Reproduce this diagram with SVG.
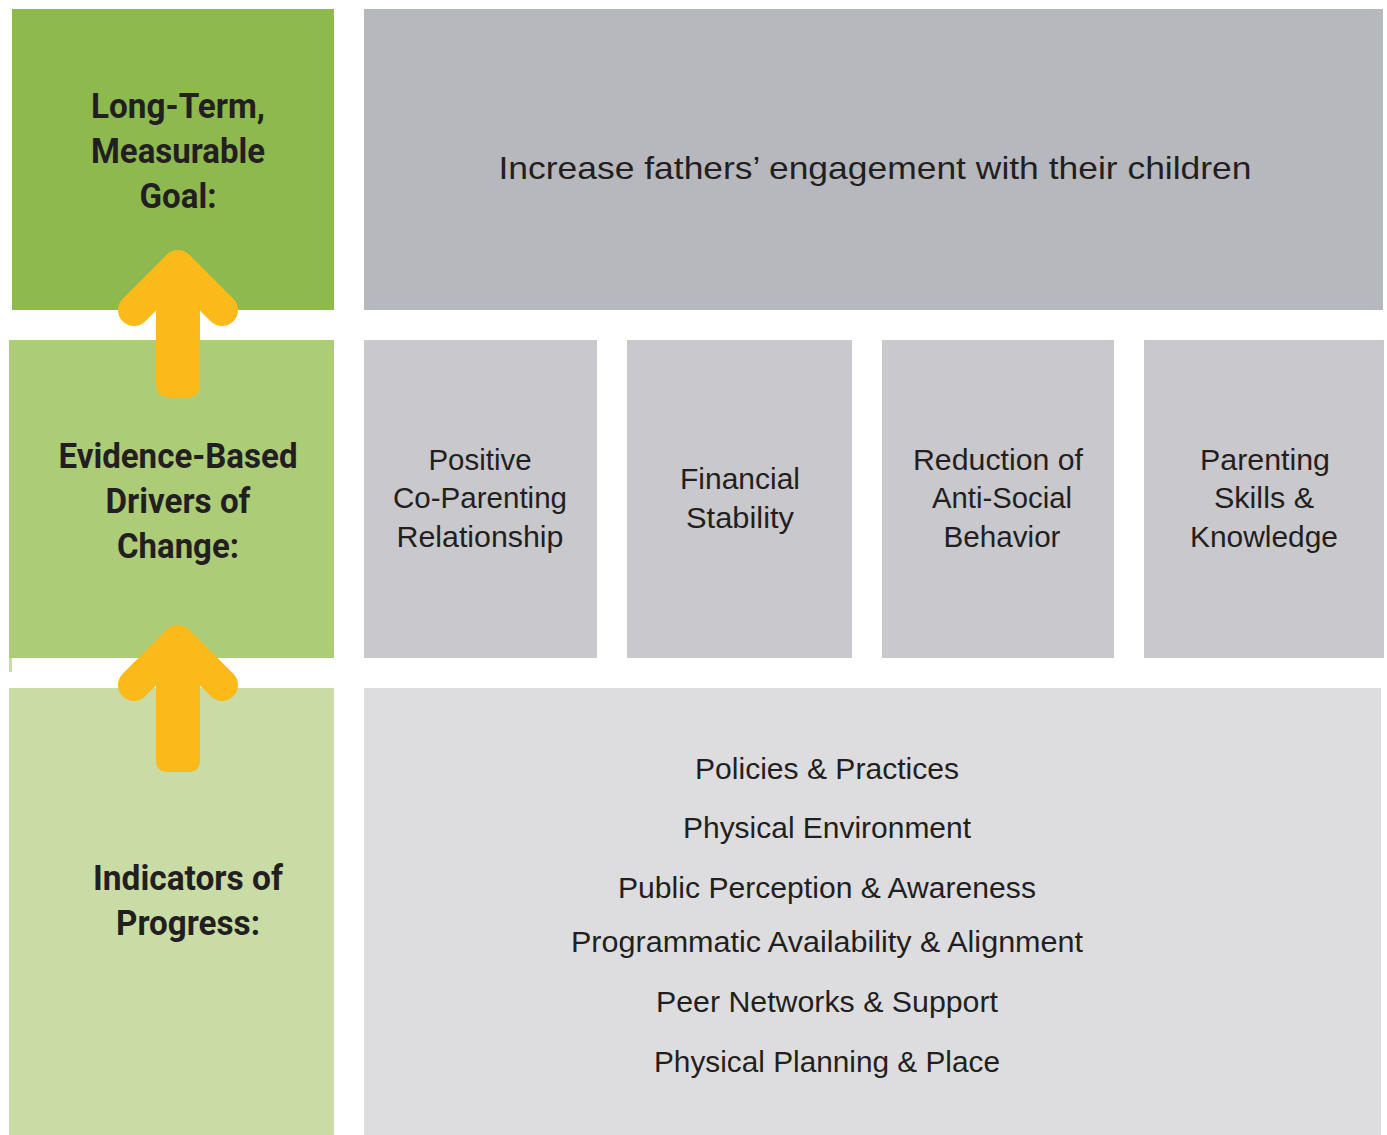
<svg xmlns="http://www.w3.org/2000/svg" width="1387" height="1135" viewBox="0 0 1387 1135">
<style>
.lbl{font-family:"Roboto","Liberation Sans",sans-serif;font-weight:bold;font-size:35px;fill:#231f20;text-anchor:middle}
.txt{font-family:"Liberation Sans","Arial",sans-serif;font-size:29px;fill:#231f20;text-anchor:middle}
.arrow-wing{fill:none;stroke:#fbb91a;stroke-width:32;stroke-linecap:round;stroke-linejoin:round}
.arrow-shaft{fill:#fbb91a}
</style>
<rect width="1387" height="1135" fill="#ffffff"/>
<g id="goal-label">
<rect x="12" y="9" width="322" height="301" fill="#8db94e"/>
<text class="lbl"><tspan x="178" y="118" textLength="174" lengthAdjust="spacingAndGlyphs">Long-Term,</tspan><tspan x="178" y="163" textLength="174" lengthAdjust="spacingAndGlyphs">Measurable</tspan><tspan x="178" y="208" textLength="77" lengthAdjust="spacingAndGlyphs">Goal:</tspan></text>
</g>
<g id="drivers-label">
<rect x="9" y="340" width="325" height="318" fill="#adcc78"/>
<text class="lbl"><tspan x="178" y="468" textLength="239" lengthAdjust="spacingAndGlyphs">Evidence-Based</tspan><tspan x="178" y="513" textLength="145" lengthAdjust="spacingAndGlyphs">Drivers of</tspan><tspan x="178" y="558" textLength="122" lengthAdjust="spacingAndGlyphs">Change:</tspan></text>
</g>
<g id="indicators-label">
<rect x="9" y="658" width="3" height="14" fill="#cadca6"/>
<rect x="9" y="688" width="325" height="447" fill="#cadca6"/>
<text class="lbl"><tspan x="188" y="890" textLength="190" lengthAdjust="spacingAndGlyphs">Indicators of</tspan><tspan x="188" y="935" textLength="144" lengthAdjust="spacingAndGlyphs">Progress:</tspan></text>
</g>
<g id="goal">
<rect x="364" y="9" width="1019" height="301" fill="#b7b8bd"/>
<text class="txt" x="875" y="179" style="font-size:32px" textLength="753" lengthAdjust="spacingAndGlyphs">Increase fathers’ engagement with their children</text>
</g>
<g id="driver-coparenting">
<rect x="364" y="340" width="233" height="318" fill="#c9c8cd"/>
<text class="txt"><tspan x="480" y="470" textLength="103" lengthAdjust="spacingAndGlyphs">Positive</tspan><tspan x="480" y="508" textLength="174" lengthAdjust="spacingAndGlyphs">Co-Parenting</tspan><tspan x="480" y="547" textLength="167" lengthAdjust="spacingAndGlyphs">Relationship</tspan></text>
</g>
<g id="driver-financial">
<rect x="627" y="340" width="225" height="318" fill="#c9c8cd"/>
<text class="txt"><tspan x="740" y="489" textLength="120" lengthAdjust="spacingAndGlyphs">Financial</tspan><tspan x="740" y="528" textLength="108" lengthAdjust="spacingAndGlyphs">Stability</tspan></text>
</g>
<g id="driver-antisocial">
<rect x="882" y="340" width="232" height="318" fill="#c9c8cd"/>
<text class="txt"><tspan x="998" y="470" textLength="170" lengthAdjust="spacingAndGlyphs">Reduction of</tspan><tspan x="1002" y="508" textLength="140" lengthAdjust="spacingAndGlyphs">Anti-Social</tspan><tspan x="1002" y="547" textLength="117" lengthAdjust="spacingAndGlyphs">Behavior</tspan></text>
</g>
<g id="driver-parenting">
<rect x="1144" y="340" width="240" height="318" fill="#c9c8cd"/>
<text class="txt"><tspan x="1265" y="470" textLength="130" lengthAdjust="spacingAndGlyphs">Parenting</tspan><tspan x="1264" y="508" textLength="100" lengthAdjust="spacingAndGlyphs">Skills &amp;</tspan><tspan x="1264" y="547" textLength="148" lengthAdjust="spacingAndGlyphs">Knowledge</tspan></text>
</g>
<g id="indicators">
<rect x="364" y="688" width="1017" height="447" fill="#dddddf"/>
<text class="txt"><tspan x="827" y="779" textLength="264" lengthAdjust="spacingAndGlyphs">Policies &amp; Practices</tspan><tspan x="827" y="838" textLength="288" lengthAdjust="spacingAndGlyphs">Physical Environment</tspan><tspan x="827" y="898" textLength="418" lengthAdjust="spacingAndGlyphs">Public Perception &amp; Awareness</tspan><tspan x="827" y="952" textLength="512" lengthAdjust="spacingAndGlyphs">Programmatic Availability &amp; Alignment</tspan><tspan x="827" y="1012" textLength="342" lengthAdjust="spacingAndGlyphs">Peer Networks &amp; Support</tspan><tspan x="827" y="1072" textLength="346" lengthAdjust="spacingAndGlyphs">Physical Planning &amp; Place</tspan></text>
</g>
<g id="connectors">
<g id="arrow-1">
<rect class="arrow-shaft" x="156" y="272" width="44" height="125" rx="10"/>
<polyline class="arrow-wing" points="134,310 178,266 222,310"/>
</g>
<g id="arrow-2">
<rect class="arrow-shaft" x="156" y="647" width="44" height="125" rx="10"/>
<polyline class="arrow-wing" points="134,685 178,641 222,685"/>
</g>
</g>
</svg>
